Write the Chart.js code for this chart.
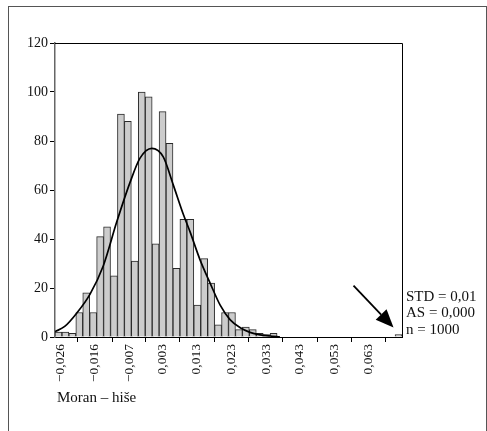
<!DOCTYPE html>
<html><head><meta charset="utf-8">
<script src="https://cdn.jsdelivr.net/npm/chart.js@4/dist/chart.umd.min.js"></script>
<style>
html,body{margin:0;padding:0;background:#fff;}
#wrap{position:relative;width:487px;height:431px;overflow:hidden;}
#frame{position:absolute;left:8px;top:6px;width:479px;height:440px;border:1px solid #555;border-bottom:none;box-sizing:border-box;}
#c{position:absolute;left:0;top:0;}
</style></head><body>
<div id="wrap"><div id="frame"></div><canvas id="c" width="487" height="431"></canvas></div>
<script>
const binStart = -0.0278;
const binWidth = 0.002;
// Counts per bin (50 bins)
const counts = [2, 2, 1.5, 10, 18, 10, 41, 45, 25, 91,
                88, 31, 100, 98, 38, 92, 79, 28, 48, 48,
                13, 32, 22, 5, 10, 10, 3, 4, 3, 1.5,
                1, 1.5, 0, 0, 0, 0, 0, 0, 0, 0,
                0, 0, 0, 0, 0, 0, 0, 0, 0, 1];
// Fitted normal curve
const curveX = [-0.0278, -0.0250, -0.0215, -0.0177, -0.0139, -0.0100, -0.0062, -0.0033, 0.0001, 0.0034,
                0.0063, 0.0092, 0.0111, 0.0140, 0.0169, 0.0198, 0.0227, 0.0256, 0.0284, 0.0313, 0.0342, 0.0370];
const curveY = [2.2, 4.3, 9.8, 17.5, 29, 47, 63, 73, 77, 73.5,
                62, 50, 43, 31.5, 22, 13, 7, 3.8, 1.9, 0.9, 0.4, 0.1];
// X tick positions and labels
const tickValues = [-0.0261, -0.0163, -0.0064, 0.0032, 0.0131, 0.0230, 0.0330, 0.0427, 0.0528, 0.0626];
const tickLabels = ['\u22120,026', '\u22120,016', '\u22120,007', '0,003', '0,013', '0,023', '0,033', '0,043', '0,053', '0,063'];
const statsLines = ['STD = 0,01', 'AS = 0,000', 'n = 1000'];
const axisTitle = 'Moran \u2013 hi\u0161e';

const FONT = "'Liberation Serif', 'DejaVu Serif', serif";

const barData = counts.map((c, i) => ({x: binStart + (i + 0.5) * binWidth, y: c}));
const lineData = curveX.map((x, i) => ({x: x, y: curveY[i]}));

const decor = {
  id: 'decor',
  afterDraw(chart) {
    const ctx = chart.ctx;
    const a = chart.chartArea;
    const xs = chart.scales.x, ys = chart.scales.y;
    ctx.save();
    // plot frame (top and right)
    ctx.strokeStyle = '#000';
    ctx.lineWidth = 1;
    ctx.beginPath();
    ctx.moveTo(a.left, a.top + 0.5);
    ctx.lineTo(a.right + 0.5, a.top + 0.5);
    ctx.lineTo(a.right + 0.5, a.bottom);
    ctx.stroke();
    // stats text
    ctx.fillStyle = '#111';
    ctx.font = "15px " + FONT;
    ctx.textAlign = 'left';
    ctx.textBaseline = 'middle';
    statsLines.forEach((t, i) => ctx.fillText(t, a.right + 4, a.bottom - 40 + i * 16.5));
    // axis title
    ctx.fillText(axisTitle, a.left + 2, a.bottom + 61);
    // arrow pointing to the outlier bin
    const li = counts.length - 1;
    const tipX = xs.getPixelForValue(barData[li].x) - 5;
    const tipY = ys.getPixelForValue(counts[li]) - 7;
    const tailX = tipX - 40, tailY = tipY - 42;
    const ang = Math.atan2(tipY - tailY, tipX - tailX);
    const hl = 18, hw = 7.5;
    const bx = tipX - hl * Math.cos(ang), by = tipY - hl * Math.sin(ang);
    ctx.strokeStyle = '#000';
    ctx.lineWidth = 1.8;
    ctx.beginPath();
    ctx.moveTo(tailX, tailY);
    ctx.lineTo(bx, by);
    ctx.stroke();
    ctx.fillStyle = '#000';
    ctx.beginPath();
    ctx.moveTo(tipX, tipY);
    ctx.lineTo(bx + hw * Math.sin(ang), by - hw * Math.cos(ang));
    ctx.lineTo(bx - hw * Math.sin(ang), by + hw * Math.cos(ang));
    ctx.closePath();
    ctx.fill();
    ctx.restore();
  }
};

new Chart(document.getElementById('c'), {
  type: 'bar',
  data: {
    datasets: [
      {
        type: 'line',
        data: lineData,
        borderColor: '#000',
        borderWidth: 1.7,
        pointRadius: 0,
        fill: false,
        cubicInterpolationMode: 'monotone',
        order: 1
      },
      {
        type: 'bar',
        data: barData,
        backgroundColor: '#cccccc',
        borderColor: '#2a2a2a',
        borderWidth: 1,
        categoryPercentage: 1,
        barPercentage: 1,
        order: 2
      }
    ]
  },
  options: {
    responsive: false,
    animation: false,
    devicePixelRatio: 1,
    layout: {padding: {left: 0, right: 85, top: 43, bottom: 0}},
    plugins: {legend: {display: false}, tooltip: {enabled: false}, title: {display: false}},
    scales: {
      x: {
        type: 'linear',
        min: binStart,
        max: binStart + counts.length * binWidth,
        offset: false,
        grid: {display: true, drawOnChartArea: false, drawTicks: true, tickLength: 5, color: '#000'},
        border: {display: true, color: '#000', width: 1},
        afterBuildTicks: s => { s.ticks = tickValues.map(v => ({value: v})); },
        afterFit: s => { s.height = 94; },
        ticks: {
          autoSkip: false, maxRotation: 90, minRotation: 90, padding: 2, color: '#111',
          font: {family: FONT, size: 13.5},
          callback: (v, i) => tickLabels[i]
        }
      },
      y: {
        min: 0, max: 120,
        grid: {display: true, drawOnChartArea: false, drawTicks: true, tickLength: 5, color: '#000'},
        border: {display: true, color: '#666', width: 1.5},
        afterFit: s => { s.width = 55; },
        ticks: {stepSize: 20, padding: 2, color: '#111', font: {family: FONT, size: 14}}
      }
    }
  },
  plugins: [decor]
});
</script>
</body></html>
